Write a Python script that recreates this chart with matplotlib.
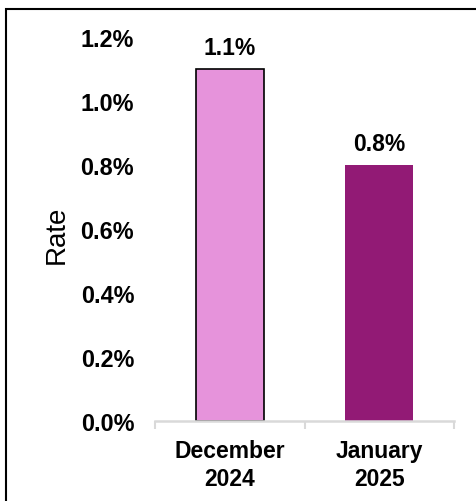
import matplotlib
matplotlib.use("Agg")
import matplotlib.pyplot as plt
from matplotlib.patches import Rectangle

categories = ["December\n2024", "January\n2025"]
values = [1.1, 0.8]
labels = ["1.1%", "0.8%"]
yticks = [0.0, 0.2, 0.4, 0.6, 0.8, 1.0, 1.2]
ytick_labels = ["0.0%", "0.2%", "0.4%", "0.6%", "0.8%", "1.0%", "1.2%"]
colors = ["#E693DB", "#921A75"]
edges = ["#000000", "#921A75"]

plt.rcParams['font.family'] = ['Liberation Sans', 'DejaVu Sans']

W, H = 477, 502
fig = plt.figure(figsize=(W / 100, H / 100), dpi=100)
ax = fig.add_axes([155 / W, 1 - 422 / H, (454 - 155) / W, (422 - 38) / H])

x = list(range(len(categories)))
bars = ax.bar(x, values, width=0.455, color=colors, edgecolor=edges, linewidth=[1.2, 0], zorder=2)

for xi, v, lab in zip(x, values, labels):
    ax.annotate(lab, (xi, v), xytext=(0, 7.5), textcoords="offset points",
                ha="center", va="bottom", fontsize=16.5, fontweight="bold")

ax.set_xlim(-0.5, 1.5)
ax.set_ylim(0, 1.2)
ax.set_yticks(yticks)
ax.set_yticklabels(ytick_labels, fontsize=16.8, fontweight="bold")
ax.tick_params(axis="y", length=0, pad=15)

ax.set_xticks([-0.5, 0.5, 1.5])
ax.set_xticklabels([])
ax.tick_params(axis="x", which="major", length=6, color="#D9D9D9", width=1.5)
ax.set_xticks(x, minor=True)
ax.set_xticklabels(categories, minor=True, fontsize=16.5, fontweight="bold", linespacing=1.25)
ax.tick_params(axis="x", which="minor", length=0, pad=13)

for s in ["top", "right", "left"]:
    ax.spines[s].set_visible(False)
ax.spines["bottom"].set_color("#D9D9D9")
ax.spines["bottom"].set_linewidth(1.8)

fig.text(57 / W, 1 - 235 / H, "Rate", rotation=90, ha="center", va="center", fontsize=20)

fig.patches.append(Rectangle((6 / W, -0.05), 1.2, 1 - 10 / H + 0.05, transform=fig.transFigure,
                             fill=False, edgecolor="black", linewidth=1.5, zorder=10))

fig.savefig("out.png", dpi=100)
